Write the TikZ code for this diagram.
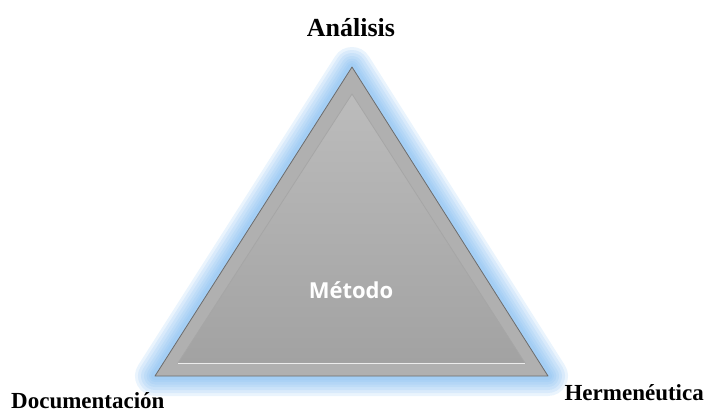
\documentclass[tikz,border=0pt]{standalone}
\usepackage{fontspec}
\setmainfont{Liberation Serif}
\newfontfamily\metodofont{Open Sans}
\usetikzlibrary{positioning}
\definecolor{glowblue}{RGB}{125,185,240}
\definecolor{bandgray}{RGB}{176,176,176}
\definecolor{facetop}{RGB}{188,188,188}
\definecolor{facebot}{RGB}{162,162,162}

\begin{document}
\begin{tikzpicture}[x=1pt, y=-1pt,
    glow/.style={draw=glowblue, line join=round, draw opacity=0.16},
    band/.style={fill=bandgray, draw=gray!85!black, line width=0.8pt, line join=round},
    face/.style={top color=facetop, bottom color=facebot, draw=gray!70, line width=0.8pt, line join=round},
    vertex/.style={font=\bfseries\fontsize{23}{26}\selectfont, inner sep=0pt}]
  \useasboundingbox (0,0) rectangle (713,415);
  % corners of the triangle
  \coordinate (top) at (352,67);
  \coordinate (bl) at (155,376);
  \coordinate (br) at (548,376);
  \coordinate (itop) at (352,94);
  \coordinate (ibl) at (178,363);
  \coordinate (ibr) at (525,363);
  % halo
  \foreach \w in {40,34,28,22,17,12,8}
    \draw[glow, line width=\w pt] (top) -- (bl) -- (br) -- cycle;
  \draw[band] (top) -- (bl) -- (br) -- cycle;
  \draw[face] (itop) -- (ibl) -- (ibr) -- cycle;
  \draw[white!85!gray, line width=1pt] (ibl) -- (ibr);
  % labels
  \node[vertex, font=\bfseries\fontsize{26}{28}\selectfont] (analisis) at (351,28) {Análisis};
  \node[vertex, anchor=west] (documentacion) at (11,401) {Documentación};
  \node[vertex, anchor=east] (hermeneutica) at (704,393) {Hermenéutica};
  \node[font=\metodofont\bfseries\fontsize{22}{24}\selectfont, text=white] (metodo) at (351,290) {Método};
\end{tikzpicture}
\end{document}
